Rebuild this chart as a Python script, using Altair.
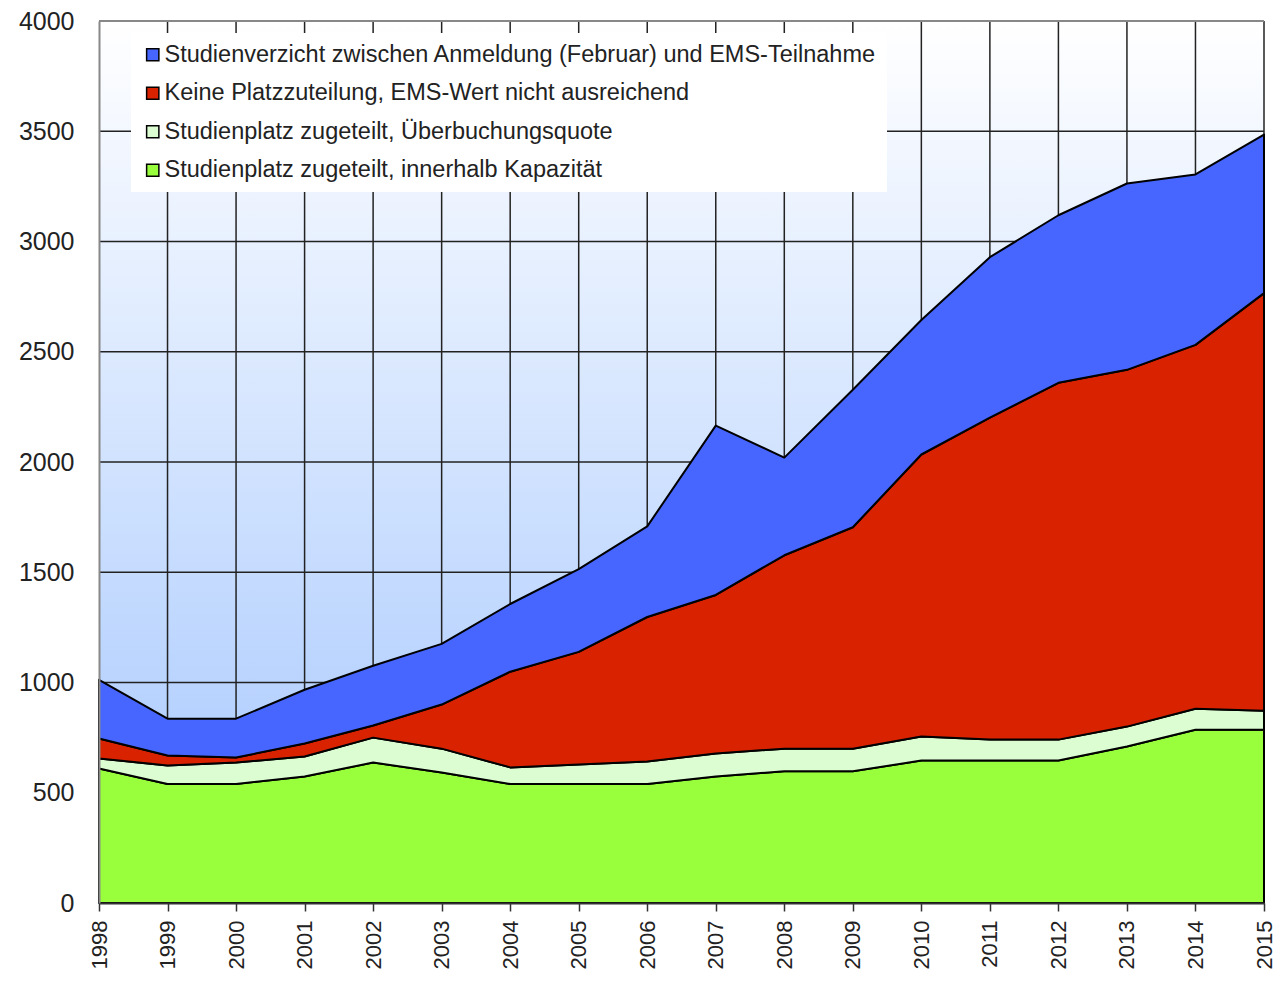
import altair as alt
import pandas as pd

years = list(range(1998, 2016))

cat_blue = "Studienverzicht zwischen Anmeldung (Februar) und EMS-Teilnahme"
cat_red = "Keine Platzzuteilung, EMS-Wert nicht ausreichend"
cat_light = "Studienplatz zugeteilt, Überbuchungsquote"
cat_green = "Studienplatz zugeteilt, innerhalb Kapazität"

green = [610, 540, 540, 574, 637, 592, 540, 540, 540, 574, 597, 597, 646, 646, 646, 710, 786, 786]
overbook = [45, 84, 97, 90, 113, 108, 75, 88, 102, 104, 103, 103, 109, 95, 95, 90, 95, 86]
red = [91, 45, 23, 59, 55, 200, 434, 511, 655, 719, 877, 1004, 1279, 1460, 1618, 1618, 1650, 1894]
blue = [266, 167, 176, 244, 271, 275, 307, 375, 411, 768, 443, 624, 610, 728, 760, 845, 773, 719]

legend_order = [cat_blue, cat_red, cat_light, cat_green]
colors = ["#4766ff", "#d82200", "#dcfcd2", "#99ff3c"]

grid_years = list(range(1999, 2016))
grid_values = [500, 1000, 1500, 2000, 2500, 3000, 3500]
y_ticks = [0, 500, 1000, 1500, 2000, 2500, 3000, 3500, 4000]

rows = []
for rank, (cat, vals) in enumerate([(cat_green, green), (cat_light, overbook), (cat_red, red), (cat_blue, blue)]):
    for y, v in zip(years, vals):
        rows.append({"year": y, "category": cat, "value": v, "rank": rank})
df = pd.DataFrame(rows)

W, H = 1165, 882
xscale = alt.Scale(domain=[1998, 2015], nice=False, zero=False)
yscale = alt.Scale(domain=[0, 4000], nice=False)

xaxis = alt.Axis(values=years, format="d", labelAngle=270, labelAlign="right",
                 labelBaseline="middle", tickSize=8, tickColor="#333", tickWidth=1.5,
                 domainColor="#333", domainWidth=2, labelFontSize=22, labelPadding=9,
                 labelColor="#222", grid=False, zindex=1, labelFlush=False, labelOverlap=False)
yaxis = alt.Axis(values=y_ticks, format="d", tickSize=0, ticks=False, labelPadding=25, labelFontSize=25,
                 labelColor="#222", domainColor="#888", domainWidth=2, grid=False, zindex=1)

gradient = {
    "gradient": "linear", "x1": 0, "y1": 0, "x2": 0, "y2": 1,
    "stops": [{"offset": 0, "color": "#ffffff"}, {"offset": 1, "color": "#a3c6fe"}],
}

bg = alt.Chart(pd.DataFrame({"a": [0]})).mark_rect(fill=gradient).encode(
    x=alt.value(0), x2=alt.value(W),
    y=alt.value(0), y2=alt.value(H),
)

vgrid = alt.Chart(pd.DataFrame({"year": grid_years})).mark_rule(color="#222", strokeWidth=1.5).encode(
    x=alt.X("year:Q", scale=xscale, axis=xaxis, title=None)
)
hgrid = alt.Chart(pd.DataFrame({"v": grid_values})).mark_rule(color="#222", strokeWidth=1.5).encode(
    y=alt.Y("v:Q", scale=yscale, axis=yaxis, title=None)
)
top = alt.Chart(pd.DataFrame({"v": [4000]})).mark_rule(color="#888", strokeWidth=2).encode(
    y=alt.Y("v:Q", scale=yscale, axis=yaxis, title=None)
)

areas = alt.Chart(df).mark_area(stroke="black", strokeWidth=2, strokeJoin="round").encode(
    x=alt.X("year:Q", scale=xscale, title=None, axis=xaxis),
    y=alt.Y("value:Q", stack="zero", scale=yscale, title=None, axis=yaxis),
    color=alt.Color("category:N", scale=alt.Scale(domain=legend_order, range=colors),
                    legend=alt.Legend(orient="none", legendX=32, legendY=12, title=None,
                                      fillColor="white", padding=10, labelFontSize=23.5,
                                      symbolType="square", symbolSize=150, symbolStrokeColor="black",
                                      symbolStrokeWidth=1.5, rowPadding=13.5, labelOffset=0,
                                      labelLimit=1000, labelColor="#222", symbolOpacity=1)),
    order=alt.Order("rank:Q", sort="ascending"),
)

chart = alt.layer(bg, vgrid, hgrid, top, areas).properties(
    width=W, height=H,
    autosize=alt.AutoSizeParams(type="none"),
    padding={"left": 91, "top": 13, "right": 11, "bottom": 76},
).configure(font="Liberation Sans").configure_view(stroke=None)

chart.save("out.html", embed_options={"renderer": "svg", "actions": False})
